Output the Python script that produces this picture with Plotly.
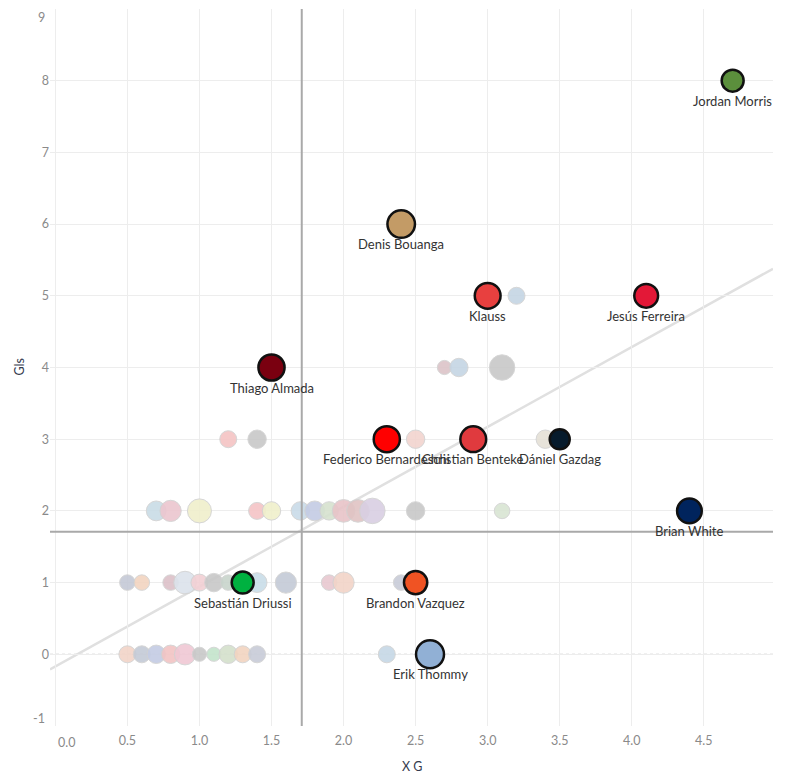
import plotly.graph_objects as go

# ---------------- data ----------------
# highlighted players
hl_names = ["Jordan Morris", "Denis Bouanga", "Klauss", "Jesús Ferreira", "Thiago Almada",
            "Federico Bernardeschi", "Christian Benteke", "Dániel Gazdag", "Brian White",
            "Sebastián Driussi", "Brandon Vazquez", "Erik Thommy"]
hl_xg = [4.7, 2.4, 3.0, 4.1, 1.5, 2.3, 2.9, 3.5, 4.4, 1.3, 2.5, 2.6]
hl_gls = [8, 6, 5, 5, 4, 3, 3, 3, 2, 1, 1, 0]
hl_minutes = [290, 455, 400, 340, 410, 410, 400, 240, 365, 290, 325, 470]
hl_colors = ["#5b8f3c", "#c39b66", "#e8403f", "#e31837", "#7a0010",
             "#ff0000", "#e03a3e", "#071b2c", "#00245d",
             "#00b140", "#f05323", "#91b0d5"]

# other players (background)
bg_xg = [3.2,
         2.7, 2.8, 3.1,
         1.2, 1.4, 2.5, 3.4,
         0.7, 0.8, 1.0, 1.4, 1.5, 1.7, 1.8, 1.9, 2.0, 2.1, 2.2, 2.5, 3.1,
         0.5, 0.6, 0.8, 0.9, 1.0, 1.1, 1.2, 1.4, 1.6, 1.9, 2.0, 2.4,
         0.5, 0.6, 0.7, 0.8, 0.9, 1.0, 1.1, 1.2, 1.3, 1.4, 2.3]
bg_gls = [5,
          4, 4, 4,
          3, 3, 3, 3,
          2, 2, 2, 2, 2, 2, 2, 2, 2, 2, 2, 2, 2,
          1, 1, 1, 1, 1, 1, 1, 1, 1, 1, 1, 1,
          0, 0, 0, 0, 0, 0, 0, 0, 0, 0, 0]
bg_minutes = [173,
              120, 203, 389,
              173, 203, 203, 203,
              235, 270, 347, 173, 203, 203, 235, 203, 307, 307, 389, 203, 145,
              145, 145, 145, 307, 173, 203, 145, 235, 270, 145, 270, 145,
              173, 173, 203, 203, 270, 120, 120, 203, 173, 173, 173]
bg_colors = ["#c5d5e4",
             "#dcc4c8", "#c5d5e4", "#c8c8c8",
             "#f4c4c4", "#c8c8c8", "#f2d4cf", "#e5e0d6",
             "#c9dce6", "#ecc6cf", "#f0efcc", "#f5c4c6", "#f0f0cc", "#c9dbe8", "#c4cce4",
             "#d6e2cf", "#e8c4c8", "#e0c4c4", "#d9cfe3", "#c8c8c8", "#d9e5d3",
             "#c5c9d6", "#f2d4c0", "#dcc0c8", "#dce3ec", "#f2d0d4", "#c8c8c8", "#c8d4cc",
             "#c9dde8", "#c4cad6", "#e8c8d0", "#f2d4c8", "#c8ccd8",
             "#f2d4c8", "#c4cad6", "#c4cce4", "#f2c4c4", "#f0c8d4", "#c8c8c8", "#c4e4cc",
             "#d4e0cc", "#f2d4c0", "#c8ccd8", "#c6d8e6"]

x_ticks = [0.0, 0.5, 1.0, 1.5, 2.0, 2.5, 3.0, 3.5, 4.0, 4.5]
y_ticks = [-1, 0, 1, 2, 3, 4, 5, 6, 7, 8, 9]
x_title = "X G"
y_title = "Gls"

avg_xg = 1.71
avg_gls = 1.71
trend_slope = 1.114
trend_intercept = -0.17

x_range = [-0.037, 4.98]
y_range = [-1.0, 9.0]

FONT = "Lato, 'Open Sans', sans-serif"
TICK_COLOR = "#8a8a8a"
TICK_SIZE = 12.5
TITLE_FONT = dict(family=FONT, size=12.5, color="#333a4d")

fig = go.Figure()

fig.add_trace(go.Scatter(
    x=bg_xg, y=bg_gls, mode="markers",
    marker=dict(size=bg_minutes, sizemode="area", sizeref=1.2,
                color=bg_colors, opacity=0.9,
                line=dict(color="#d2d2d2", width=1)),
    hoverinfo="skip", showlegend=False,
))

fig.add_trace(go.Scatter(
    x=hl_xg, y=hl_gls, mode="markers",
    text=hl_names, hoverinfo="text",
    marker=dict(size=hl_minutes, sizemode="area", sizeref=1.2, opacity=1,
                color=hl_colors, line=dict(color="#111111", width=2.5)),
    showlegend=False,
))

# name labels below highlighted marks
for name, xv, yv in zip(hl_names, hl_xg, hl_gls):
    fig.add_annotation(x=xv, y=yv, xref="x", yref="y", text=name, showarrow=False,
                       xanchor="center", yanchor="middle", yshift=-20,
                       font=dict(family=FONT, size=13, color="#333333"))

# trend line
fig.add_shape(type="line", xref="x", yref="y",
              x0=x_range[0], y0=trend_intercept + trend_slope * x_range[0],
              x1=x_range[1], y1=trend_intercept + trend_slope * x_range[1],
              line=dict(color="#e0e0e0", width=2.5), layer="below")
# zero line (dotted)
fig.add_shape(type="line", xref="paper", yref="y", x0=0, x1=1, y0=0, y1=0,
              line=dict(color="#b4b4b4", width=1, dash="dot"), layer="below")
# average reference lines
fig.add_shape(type="line", xref="x", yref="paper", x0=avg_xg, x1=avg_xg, y0=0, y1=1,
              line=dict(color="#a9a9a9", width=2), layer="above")
fig.add_shape(type="line", xref="paper", yref="y", x0=0, x1=1, y0=avg_gls, y1=avg_gls,
              line=dict(color="#a9a9a9", width=2), layer="above")

# edge tick labels are nudged inward (as in the reference)
x_text = ["" if v == x_ticks[0] else f"{v:.1f}" for v in x_ticks]
y_text = ["" if v in (y_ticks[0], y_ticks[-1]) else str(v) for v in y_ticks]
tick_font = dict(family=FONT, size=TICK_SIZE, color=TICK_COLOR)
fig.add_annotation(x=x_ticks[0], y=0, xref="x", yref="paper", text=f"{x_ticks[0]:.1f}",
                   showarrow=False, xanchor="center", yanchor="top",
                   xshift=11, yshift=-7, font=tick_font)
fig.add_annotation(x=0, y=y_ticks[-1], xref="paper", yref="y", text=str(y_ticks[-1]),
                   showarrow=False, xanchor="right", yanchor="middle",
                   xshift=-3, yshift=-8, font=tick_font)
fig.add_annotation(x=0, y=y_ticks[0], xref="paper", yref="y", text=str(y_ticks[0]),
                   showarrow=False, xanchor="right", yanchor="middle",
                   xshift=-3, yshift=8, font=tick_font)

# axis titles
fig.add_annotation(x=0, y=0.5, xref="paper", yref="paper", text=y_title, textangle=-90,
                   showarrow=False, xanchor="center", yanchor="middle", xshift=-31,
                   font=TITLE_FONT)
fig.add_annotation(x=0.5, y=0, xref="paper", yref="paper", text=x_title,
                   showarrow=False, xanchor="center", yanchor="middle", yshift=-40,
                   font=TITLE_FONT)

fig.update_layout(
    width=785, height=776,
    margin=dict(l=42, r=20, t=0.6, b=58),
    paper_bgcolor="white", plot_bgcolor="white",
    font=dict(family=FONT, size=12, color="#333333"),
    xaxis=dict(range=x_range, tickvals=x_ticks, ticktext=x_text, automargin=False,
               showgrid=True, gridcolor="#ededed", gridwidth=1,
               zeroline=False, showline=False, ticks="", ticklabelstandoff=5,
               tickfont=tick_font),
    yaxis=dict(range=y_range, tickvals=y_ticks, ticktext=y_text, automargin=False,
               showgrid=True, gridcolor="#ededed", gridwidth=1,
               zeroline=False, showline=False, ticks="",
               tickfont=tick_font),
)

fig.write_html("out.html")
